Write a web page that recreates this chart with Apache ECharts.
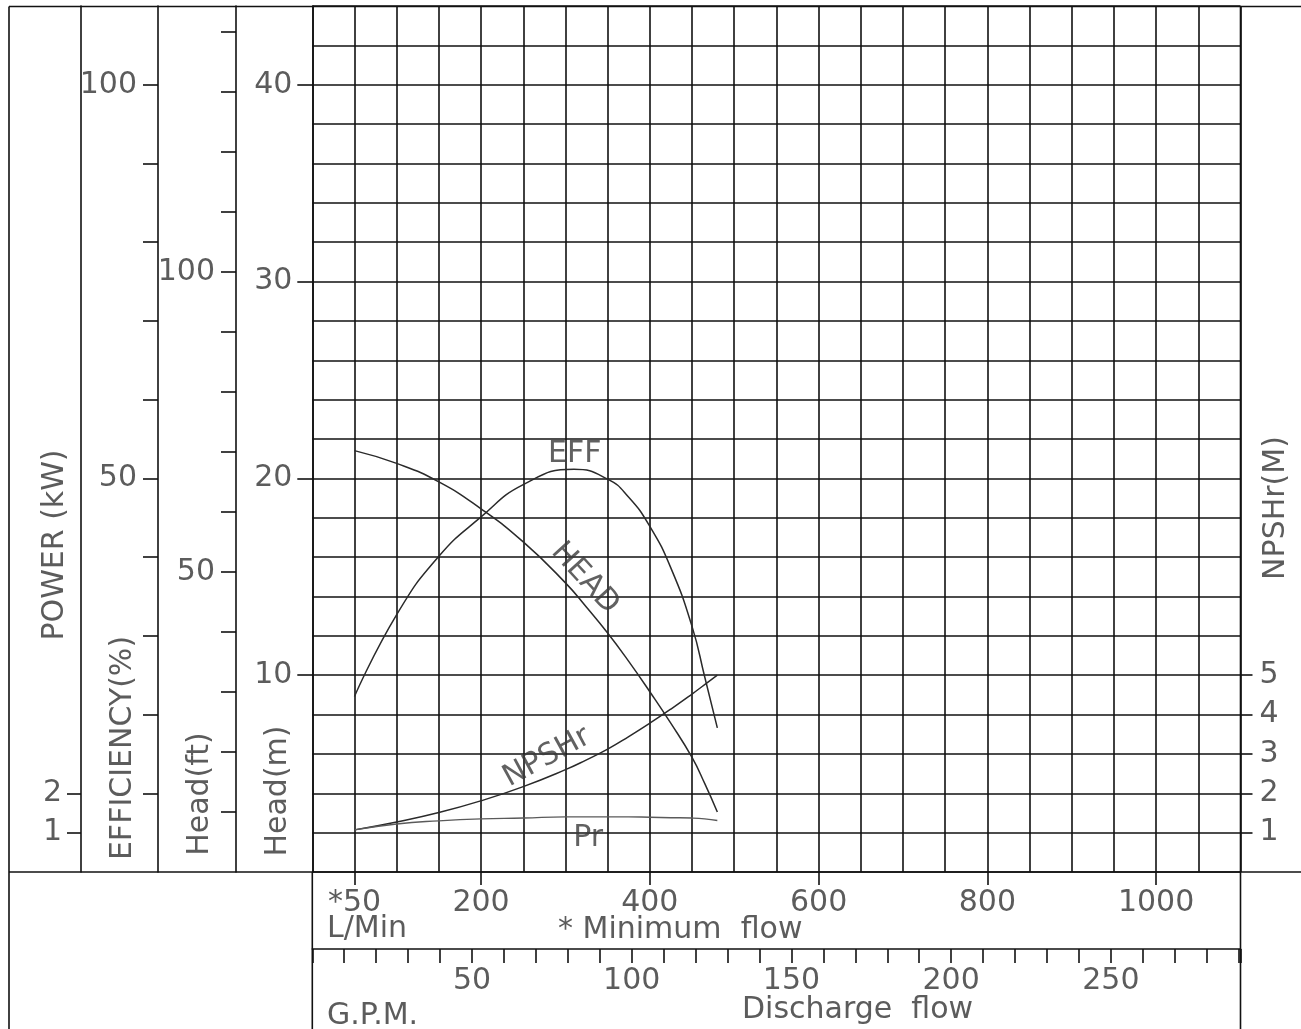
<!DOCTYPE html>
<html>
<head>
<meta charset="utf-8">
<script src="https://cdn.jsdelivr.net/npm/echarts@6/dist/echarts.min.js"></script>
<style>
html,body{margin:0;padding:0;background:#fff;}
#c{width:1301px;height:1029px;}
</style>
</head>
<body>
<div id="c"></div>
<script>
// ---- data ----
const flowLpm   = [50, 100, 150, 200, 250, 300, 325, 350, 375, 400, 425, 450, 465, 480];
const headM     = [21.41, 20.76, 19.82, 18.45, 16.77, 14.69, 13.45, 12.14, 10.70, 9.16, 7.55, 5.82, 4.50, 3.05];
const npshrM    = [1.07, 1.27, 1.51, 1.81, 2.17, 2.60, 2.85, 3.12, 3.44, 3.78, 4.14, 4.52, 4.76, 5.0];
const powerKw   = [1.07, 1.22, 1.30, 1.35, 1.37, 1.40, 1.40, 1.40, 1.40, 1.39, 1.38, 1.37, 1.35, 1.31];
const effFlow   = [50, 100, 150, 200, 250, 310, 350, 375, 400, 425, 450, 465, 480];
const effPct    = [22.3, 32.7, 40.1, 45.1, 49.2, 51.15, 49.9, 47.6, 43.9, 38.6, 31.2, 24.8, 18.3];

const lpmLabels   = [50, 200, 400, 600, 800, 1000];
const gpmLabels   = [50, 100, 150, 200, 250];
const headMLabels = [10, 20, 30, 40];
const headFtTicks = [10, 20, 30, 40, 50, 60, 70, 80, 90, 100, 110, 120, 130, 140];
const headFtLabels= [50, 100];
const effTicks    = [10, 20, 30, 40, 50, 60, 70, 80, 90, 100];
const effLabels   = [50, 100];
const powerTicks  = [1, 2];
const npshTicks   = [1, 2, 3, 4, 5];

const curveNames   = ['EFF', 'HEAD', 'NPSHr', 'Pr'];
const curveLblFlow = [311, 323, 278, 327];       // L/min at label centre
const curveLblHead = [21.24, 14.92, 5.83, 1.73]; // head (m) at label centre

// ---- scales ----
const HEAD_MAX = 44;            // m
const FT_PER_M = 1 / 0.3048;
const EFF_PER_M = 2.5;          // %
const KW_PER_M = 0.5;           // kW  (power & NPSHr share this scale)
const FLOW_MAX = 1100;          // L/min
const LPM_PER_GPM = 3.78541;

const INK = '#111';
const TXT = '#5c5c5c';
const LW = 1.6;
const FONT = 'DejaVu Sans';
const FONT_CSS = 'normal 30px "DejaVu Sans"';
const txt = {fontFamily: FONT, fontSize: 30, color: TXT, fontWeight: 'normal'};

const GL = 312.3, GR = 60.5, GT = 6, GB = 157;

function labelAxis(o) {
  return Object.assign({
    type: 'value', gridIndex: 0, position: 'left', offset: 0,
    splitLine: {show: false},
    axisLine: {show: true, lineStyle: {color: INK, width: LW}},
    axisTick: {show: true, length: 15, lineStyle: {color: INK, width: LW}},
    axisLabel: Object.assign({}, txt, {margin: 20})
  }, o);
}

const chart = echarts.init(document.getElementById('c'), null, {renderer: 'canvas'});

const curveStyle = {color: '#2a2a2a', width: 1.5};

const option = {
  animation: false,
  backgroundColor: '#fff',
  grid: [
    {left: GL, right: GR, top: GT, bottom: GB, containLabel: false},
    {left: GL, right: GR, top: 948, height: 1, containLabel: false}
  ],
  xAxis: [
    { // grid lines, L/min
      type: 'value', gridIndex: 0, min: 0, max: FLOW_MAX, interval: 50,
      axisLine: {show: false}, axisTick: {show: false}, axisLabel: {show: false},
      splitLine: {show: true, lineStyle: {color: INK, width: LW}}
    },
    { // L/min labels
      type: 'value', gridIndex: 0, position: 'bottom', min: 0, max: FLOW_MAX,
      axisLine: {show: false}, splitLine: {show: false},
      axisTick: {show: true, length: 13, customValues: lpmLabels, lineStyle: {color: INK, width: LW}},
      axisLabel: Object.assign({}, txt, {margin: 16, customValues: lpmLabels,
        formatter: v => (v === 50 ? '*50' : String(v))})
    },
    { // G.P.M.
      type: 'value', gridIndex: 1, position: 'bottom', min: 0, max: FLOW_MAX / LPM_PER_GPM, interval: 10,
      axisLine: {show: true, lineStyle: {color: INK, width: LW}},
      splitLine: {show: false},
      axisTick: {show: true, length: 14, lineStyle: {color: INK, width: LW}},
      axisLabel: Object.assign({}, txt, {margin: 17, customValues: gpmLabels,
        formatter: v => (gpmLabels.indexOf(Math.round(v)) >= 0 && Math.abs(v - Math.round(v)) < 1e-6 ? String(Math.round(v)) : '')})
    }
  ],
  yAxis: [
    { // 0: head (m) grid
      type: 'value', gridIndex: 0, min: 0, max: HEAD_MAX, interval: 2,
      axisLine: {show: true, lineStyle: {color: INK, width: LW}},
      axisTick: {show: false}, axisLabel: {show: false},
      splitLine: {show: true, lineStyle: {color: INK, width: LW}}
    },
    labelAxis({ // 1: head (m) labels
      min: 0, max: HEAD_MAX, axisLine: {show: false},
      axisTick: {show: true, length: 15, customValues: headMLabels, lineStyle: {color: INK, width: LW}},
      axisLabel: Object.assign({}, txt, {margin: 20, customValues: headMLabels})
    }),
    labelAxis({ // 2: head (ft)
      min: 0, max: HEAD_MAX * FT_PER_M, offset: GL - 236,
      axisTick: {show: true, length: 15, customValues: headFtTicks, lineStyle: {color: INK, width: LW}},
      axisLabel: Object.assign({}, txt, {margin: 21, customValues: headFtLabels})
    }),
    labelAxis({ // 3: efficiency (%)
      min: 0, max: HEAD_MAX * EFF_PER_M, offset: GL - 158,
      axisTick: {show: true, length: 15, customValues: effTicks, lineStyle: {color: INK, width: LW}},
      axisLabel: Object.assign({}, txt, {margin: 21, customValues: effLabels})
    }),
    labelAxis({ // 4: power (kW)
      min: 0, max: HEAD_MAX * KW_PER_M, offset: GL - 81,
      axisTick: {show: true, length: 14, customValues: powerTicks, lineStyle: {color: INK, width: LW}},
      axisLabel: Object.assign({}, txt, {margin: 19, customValues: powerTicks})
    }),
    labelAxis({ // 5: NPSHr (m)
      position: 'right', min: 0, max: HEAD_MAX * KW_PER_M, offset: 0,
      axisLine: {show: false},
      axisTick: {show: true, length: 12, customValues: npshTicks, lineStyle: {color: INK, width: LW}},
      axisLabel: Object.assign({}, txt, {margin: 19, customValues: npshTicks})
    }),
    {type: 'value', gridIndex: 1, show: false, min: 0, max: 1}
  ],
  series: [
    {name: 'HEAD', type: 'line', xAxisIndex: 0, yAxisIndex: 0, smooth: 0.5, symbol: 'none', silent: true, z: 5,
     lineStyle: curveStyle, data: flowLpm.map((f, i) => [f, headM[i]])},
    {name: 'EFF', type: 'line', xAxisIndex: 0, yAxisIndex: 3, smooth: 0.5, symbol: 'none', silent: true, z: 5,
     lineStyle: curveStyle, data: effFlow.map((f, i) => [f, effPct[i]])},
    {name: 'NPSHr', type: 'line', xAxisIndex: 0, yAxisIndex: 5, smooth: 0.5, symbol: 'none', silent: true, z: 5,
     lineStyle: curveStyle, data: flowLpm.map((f, i) => [f, npshrM[i]])},
    {name: 'Pr', type: 'line', xAxisIndex: 0, yAxisIndex: 4, smooth: 0.5, symbol: 'none', silent: true, z: 5,
     lineStyle: {color: '#5a5a5a', width: 1.4}, data: flowLpm.map((f, i) => [f, powerKw[i]])},
    {name: 'curve labels', type: 'scatter', xAxisIndex: 0, yAxisIndex: 0, symbolSize: 0, silent: true, z: 6,
     label: Object.assign({}, txt, {show: true, position: 'inside', align: 'center', verticalAlign: 'middle',
       color: '#3a3a3a', formatter: p => p.data.name}),
     data: curveNames.map((n, i) => ({
       name: n, value: [curveLblFlow[i], curveLblHead[i]],
       label: {rotate: [0, -47.6, 28.6, 0][i]}
     }))}
  ],
  graphic: [
    // frame lines
    {type: 'line', silent: true, z: 10, shape: {x1: 9, y1: 6.5, x2: 1301, y2: 6.5}, style: {stroke: INK, lineWidth: LW}},
    {type: 'line', silent: true, z: 10, shape: {x1: 9, y1: 6.5, x2: 9, y2: 1029}, style: {stroke: INK, lineWidth: LW}},
    {type: 'line', silent: true, z: 10, shape: {x1: 9, y1: 872, x2: 1301, y2: 872}, style: {stroke: INK, lineWidth: LW}},
    {type: 'line', silent: true, z: 10, shape: {x1: GL, y1: 872, x2: GL, y2: 1029}, style: {stroke: INK, lineWidth: LW}},
    {type: 'line', silent: true, z: 10, shape: {x1: 1240.5, y1: 6.5, x2: 1240.5, y2: 1029}, style: {stroke: INK, lineWidth: LW}},
    // axis titles
    ...[
      ['POWER (kW)', 55, 545, Math.PI / 2],
      ['EFFICIENCY(%)', 123.5, 748, Math.PI / 2],
      ['Head(ft)', 200, 794, Math.PI / 2],
      ['Head(m)', 278, 791, Math.PI / 2],
      ['NPSHr(M)', 1276, 508, Math.PI / 2]
    ].map(([t, x, y, r]) => ({
      type: 'text', silent: true, z: 10, x: x, y: y, rotation: r,
      style: {text: t, x: 0, y: 0, fill: TXT, font: FONT_CSS,
              align: 'center', verticalAlign: 'middle', textAlign: 'center', textVerticalAlign: 'middle'}
    })),
    ...[
      ['L/Min', 327, 929],
      ['* Minimum  flow', 558, 930],
      ['G.P.M.', 327, 1016],
      ['Discharge  flow', 742, 1010]
    ].map(([t, x, y]) => ({
      type: 'text', silent: true, z: 10, x: x, y: y,
      style: {text: t, x: 0, y: 0, fill: TXT, font: FONT_CSS,
              align: 'left', verticalAlign: 'middle', textAlign: 'left', textVerticalAlign: 'middle'}
    }))
  ]
};

chart.setOption(option);
</script>
</body>
</html>
